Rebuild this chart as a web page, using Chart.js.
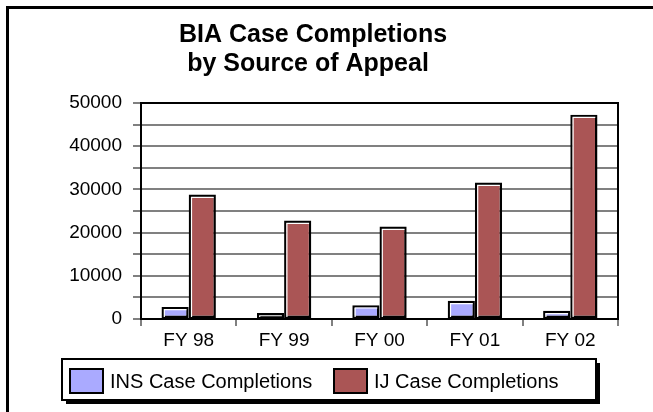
<!DOCTYPE html>
<html>
<head>
<meta charset="utf-8">
<script src="https://cdn.jsdelivr.net/npm/chart.js@4.4.1/dist/chart.umd.min.js"></script>
<style>
  html, body { margin: 0; padding: 0; background: #fff; }
  #wrap { width: 653px; height: 412px; position: relative; }
</style>
</head>
<body>
<div id="wrap"><canvas id="grafico"></canvas></div>
<script>
// data
const years = ['FY 98', 'FY 99', 'FY 00', 'FY 01', 'FY 02'];
const insCompletions = [2800, 1400, 3200, 4200, 1900];
const ijCompletions = [28800, 22800, 21400, 31600, 47300];
const seriesNames = ['INS Case Completions', 'IJ Case Completions'];
const titleLines = ['BIA Case Completions', 'by Source of Appeal'];

const FONT = "'Liberation Sans', Arial, Helvetica, sans-serif";

// frame, title, plot border, bar highlights and the boxed legend
const decorPlugin = {
  id: 'decor',
  beforeDraw(chart) {
    const ctx = chart.ctx;
    ctx.save();
    ctx.fillStyle = '#fff';
    ctx.fillRect(0, 0, chart.width, chart.height);
    ctx.restore();
  },
  afterDatasetsDraw(chart) {
    const ctx = chart.ctx;
    ctx.save();
    ctx.strokeStyle = '#fff';
    ctx.lineWidth = 1.2;
    chart.data.datasets.forEach((ds, i) => {
      chart.getDatasetMeta(i).data.forEach(bar => {
        const left = bar.x - bar.width / 2;
        const right = bar.x + bar.width / 2;
        ctx.beginPath();
        ctx.moveTo(left + 2.8, bar.base - 1);
        ctx.lineTo(left + 2.8, bar.y + 2.8);
        ctx.lineTo(right - 2.2, bar.y + 2.8);
        ctx.stroke();
      });
    });
    ctx.restore();
  },
  afterDraw(chart) {
    const ctx = chart.ctx;
    const area = chart.chartArea;
    ctx.save();

    // outer frame (top and left edges only are visible)
    ctx.strokeStyle = '#000';
    ctx.lineWidth = 3;
    ctx.beginPath();
    ctx.moveTo(7.5, chart.height);
    ctx.lineTo(7.5, 7.5);
    ctx.lineTo(chart.width, 7.5);
    ctx.stroke();

    // plot area top and right border
    ctx.lineWidth = 2;
    ctx.beginPath();
    ctx.moveTo(area.left - 1, area.top);
    ctx.lineTo(area.right, area.top);
    ctx.lineTo(area.right, area.bottom);
    ctx.stroke();

    // title
    ctx.fillStyle = '#000';
    ctx.font = 'bold 25px ' + FONT;
    ctx.textAlign = 'center';
    ctx.textBaseline = 'alphabetic';
    ctx.fillText(titleLines[0], 313, 42);
    ctx.fillText(titleLines[1], 308, 71);

    // legend box with drop shadow
    const bx = 62, by = 359, bw = 534, bh = 41;
    ctx.fillStyle = '#000';
    ctx.fillRect(bx + 4, by + 4, bw, bh);
    ctx.fillStyle = '#fff';
    ctx.fillRect(bx, by, bw, bh);
    ctx.strokeStyle = '#000';
    ctx.lineWidth = 2;
    ctx.strokeRect(bx, by, bw, bh);

    const swatchX = [70, 334];
    ctx.font = '20px ' + FONT;
    ctx.textAlign = 'left';
    chart.data.datasets.forEach((ds, i) => {
      ctx.fillStyle = ds.backgroundColor;
      ctx.fillRect(swatchX[i], 369, 33, 24);
      ctx.strokeStyle = '#000';
      ctx.lineWidth = 2;
      ctx.strokeRect(swatchX[i], 369, 33, 24);
      ctx.fillStyle = '#000';
      ctx.fillText(ds.label, swatchX[i] + 40, 388);
    });
    ctx.restore();
  }
};

const ctx = document.getElementById('grafico').getContext('2d');
new Chart(ctx, {
  type: 'bar',
  data: {
    labels: years,
    datasets: [
      {
        label: seriesNames[0],
        data: insCompletions,
        backgroundColor: '#aaaaff',
        borderColor: '#000',
        borderWidth: 2.5,
        borderSkipped: false
      },
      {
        label: seriesNames[1],
        data: ijCompletions,
        backgroundColor: '#aa5555',
        borderColor: '#000',
        borderWidth: 2.5,
        borderSkipped: false
      }
    ]
  },
  options: {
    responsive: true,
    maintainAspectRatio: false,
    animation: false,
    layout: { padding: { top: 103, right: 35, bottom: 0, left: 0 } },
    categoryPercentage: 0.57,
    barPercentage: 1.0,
    plugins: {
      legend: { display: false },
      title: { display: false },
      tooltip: { enabled: false }
    },
    scales: {
      x: {
        offset: true,
        grid: {
          display: true,
          offset: true,
          drawOnChartArea: false,
          drawTicks: true,
          tickLength: 7,
          tickColor: '#808080',
          lineWidth: 2
        },
        border: { display: true, color: '#000', width: 2 },
        ticks: {
          color: '#000',
          font: { family: FONT, size: 19 },
          padding: 3
        },
        afterFit(scale) { scale.height = 93; }
      },
      y: {
        min: 0,
        max: 50000,
        grid: {
          color: '#808080',
          lineWidth: 2,
          tickLength: 8,
          tickColor: '#808080'
        },
        border: { display: true, color: '#000', width: 2 },
        ticks: {
          stepSize: 5000,
          autoSkip: false,
          color: '#000',
          font: { family: FONT, size: 19 },
          padding: 11,
          callback: v => (v % 10000 === 0 ? String(v) : '')
        },
        afterFit(scale) { scale.width = 141; }
      }
    }
  },
  plugins: [decorPlugin]
});
</script>
</body>
</html>
